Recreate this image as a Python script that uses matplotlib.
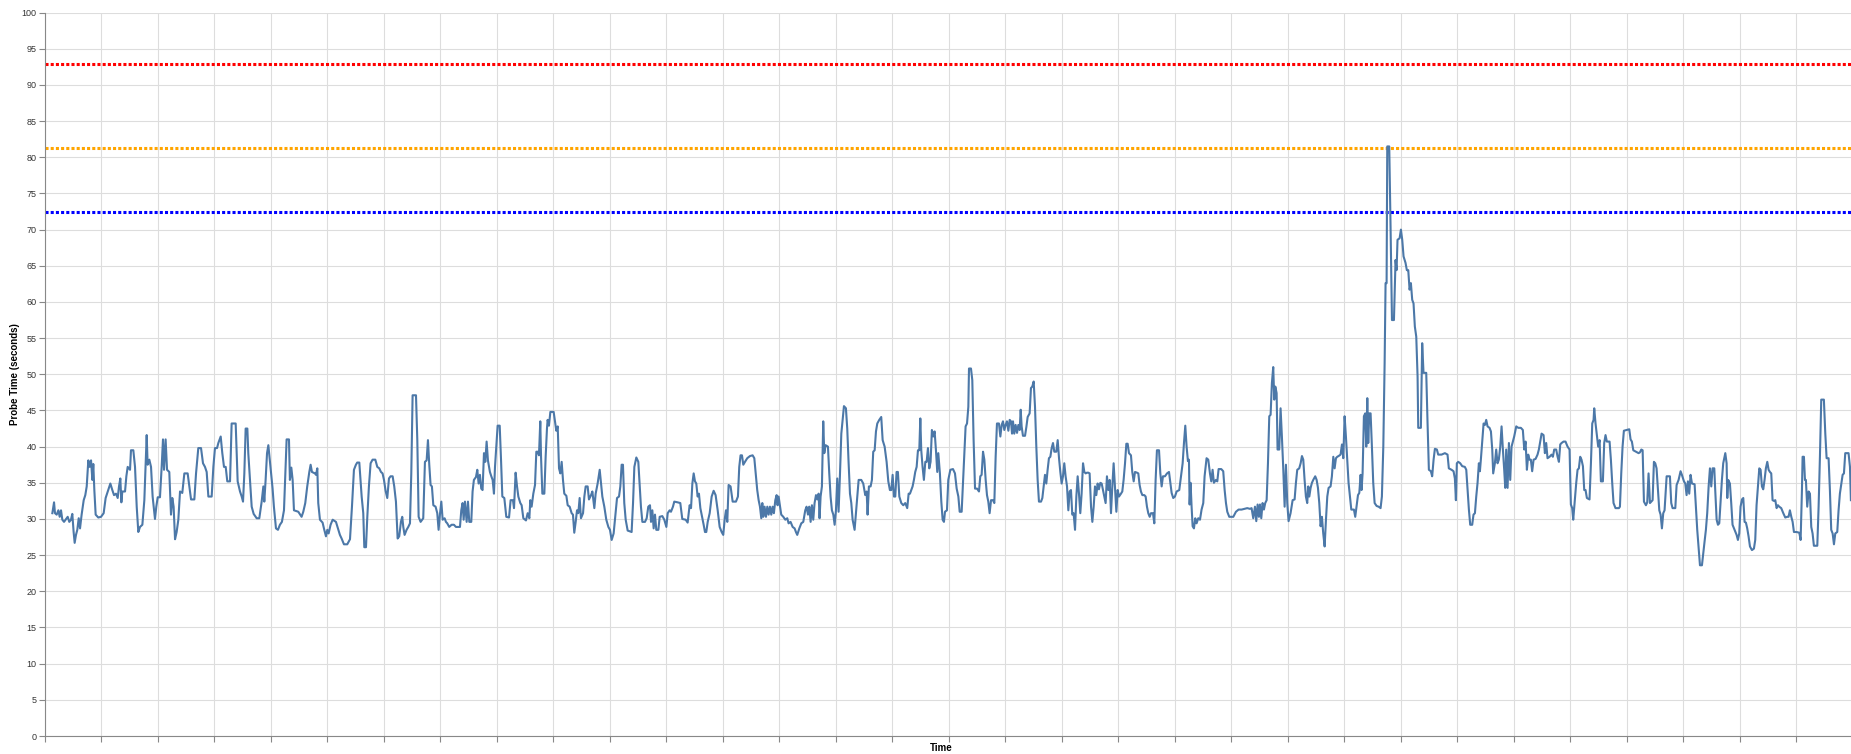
import matplotlib
matplotlib.use("Agg")
import matplotlib.pyplot as plt

# sample time, minutes since start of the window
time_min = [
    7.8, 9.6, 10.6, 12.4, 14.2, 15.6, 17.0, 18.4, 20.2, 21.9, 24.1, 25.8, 27.6, 29.0, 30.4, 31.5, 32.9, 34.3, 35.8, 37.2,
    38.9, 41.1, 42.8, 44.3, 46.0, 47.4, 48.9, 50.3, 51.3, 52.4, 53.8, 56.6, 59.5, 62.3, 64.4, 66.6, 69.4, 71.5, 73.3, 75.4,
    77.2, 78.6, 80.0, 81.1, 82.1, 85.0, 86.4, 87.8, 90.3, 91.3, 93.8, 95.6, 97.4, 99.1, 100.9, 103.4, 105.5, 106.9, 108.0, 109.0,
    110.8, 112.6, 114.3, 116.8, 118.2, 119.7, 122.1, 123.9, 125.3, 126.4, 128.1, 129.6, 132.0, 133.8, 135.2, 136.6, 138.1, 139.8, 141.6, 143.4,
    145.8, 148.0, 151.5, 153.3, 155.1, 158.6, 160.4, 162.8, 165.7, 167.8, 169.9, 171.7, 173.5, 177.0, 178.8, 180.5, 182.7, 184.1, 186.6, 188.3,
    190.1, 191.9, 193.6, 196.5, 198.2, 202.5, 204.6, 207.1, 208.9, 210.3, 211.7, 213.1, 214.9, 215.9, 217.7, 219.5, 221.6, 224.8, 227.6, 230.1,
    231.9, 232.9, 234.3, 235.8, 237.2,
    241.7, 243.1, 245.3, 247.4, 249.5, 251.6, 253.8, 255.2, 256.6, 259.1, 260.1, 261.6, 263.0, 264.4, 269.0, 272.5, 274.3, 276.4, 278.5, 280.7,
    282.1, 283.5, 286.7, 287.8, 289.2, 290.2, 292.0, 294.8, 296.6, 298.4, 299.8, 301.2, 303.3, 305.5, 309.0, 311.1, 313.2, 315.0, 317.5, 321.0,
    323.9, 326.0, 328.1, 330.2, 331.6, 333.8, 336.3, 338.0, 339.1, 340.9, 342.3, 344.0, 345.8, 347.9, 350.8, 352.9, 355.0, 356.8, 358.5, 360.0,
    361.7, 363.5, 365.3, 367.0, 369.2, 370.9, 372.7, 374.5, 376.2, 378.0, 379.4, 380.5, 381.9, 384.0, 385.8, 387.6, 389.0, 390.4, 394.0, 395.4,
    396.8, 398.9, 401.7, 403.5, 405.3, 406.7, 408.1, 409.5, 410.9, 412.4, 414.8, 416.6, 418.0, 419.4, 420.9, 422.3, 424.4, 425.8, 427.2, 429.3,
    431.8, 434.3, 436.4, 440.7, 442.1, 443.5, 444.6, 446.0, 447.8, 449.2, 450.6, 452.7, 454.1, 455.5, 457.7, 459.1, 460.5, 461.9, 463.3, 464.7,
    466.2, 467.6, 469.0, 470.4, 472.5, 474.0, 475.4, 476.8,
    477.9, 479.7, 480.7, 482.9, 484.3, 485.7, 487.8, 489.9, 492.8, 494.5, 497.0, 498.1, 499.8, 501.3, 502.7, 504.8, 506.2, 508.0, 510.8, 512.6,
    514.4, 515.4, 516.8, 518.6, 520.4, 521.8, 523.2, 524.6, 526.0, 526.8, 528.2, 530.3, 531.7, 533.1, 533.8, 535.2, 536.7, 540.2, 541.6, 543.0,
    544.5, 545.9, 547.3, 548.7, 550.1, 551.5, 553.7, 555.1, 557.2, 559.3, 560.7, 562.1, 563.6, 565.0, 566.4, 567.8, 569.2, 571.4, 572.8, 574.2,
    576.3, 577.7, 579.9, 581.3, 583.4, 584.8, 586.9, 589.1, 590.5, 591.9, 594.0, 596.1, 598.3, 600.0, 601.8, 603.9, 606.0, 607.5, 609.6, 611.0,
    612.4, 613.8, 615.2, 616.7, 618.8, 623.0, 624.5, 625.9, 628.0, 630.1, 631.5, 632.9, 634.4, 637.2, 639.0, 640.7, 642.5, 643.6, 645.0, 646.4,
    647.8, 649.2, 651.4, 652.8, 655.6, 657.7, 659.9, 661.3, 663.4, 664.8, 666.9, 668.3, 671.9, 674.7, 676.8, 680.4, 682.5, 684.6, 686.1, 687.5,
    688.9, 690.3, 691.7, 693.1, 694.5, 696.0, 697.4, 699.5, 700.9, 702.3, 703.8, 705.9, 708.0, 710.1, 712.2, 714.4, 716.5,
    718.6, 720.3, 721.8, 723.2, 724.6, 726.0, 728.1, 730.3, 733.8, 735.9, 737.3, 738.7, 740.2, 741.6, 743.4, 745.8, 748.7, 751.5, 753.3, 755.0,
    756.4, 757.9, 759.3, 760.7, 761.8, 762.8, 764.2, 765.7, 767.1, 768.5, 769.9, 771.3, 772.7, 774.1, 775.6, 777.0, 778.0, 779.1, 780.5, 781.9,
    784.1, 786.2, 788.3, 789.7, 791.8, 794.0, 796.1, 797.5, 798.9, 801.1, 803.2, 805.3, 807.4, 808.8, 810.3, 811.7, 813.1, 814.5, 815.9, 817.3,
    818.8, 820.2, 821.6, 822.6, 823.7, 825.1, 826.5, 827.6, 829.0, 831.5, 832.9, 834.3, 835.7, 837.2, 838.6, 840.0, 841.4, 842.8, 844.2, 845.7,
    847.1, 848.5, 850.6, 852.0, 853.4, 854.9, 856.3, 857.7, 859.8, 861.2, 862.6, 864.1, 866.9, 869.0, 871.1, 872.6, 873.6, 875.0, 876.8, 878.2,
    879.6, 881.1, 882.5, 883.9, 886.0, 888.1, 889.6, 891.7, 893.8, 895.6, 897.3, 898.8, 900.2, 901.6, 903.0, 904.4, 905.8, 907.3, 909.4, 911.5,
    913.6, 915.7, 917.2, 918.6, 920.0, 921.4, 922.8, 924.2, 925.7, 927.1, 928.5, 929.6, 930.6, 932.0, 933.4, 934.9, 936.3, 937.7, 939.1, 940.5,
    941.9, 943.4, 944.8, 946.2, 947.6, 948.7, 950.4, 951.9, 953.3, 954.7,
    955.8, 957.9, 959.3, 961.5, 964.3, 966.4, 968.2, 970.0, 971.4, 973.5, 974.9, 976.3, 977.7, 979.2, 980.6, 981.3, 983.4, 984.8, 986.2, 987.7,
    989.8, 991.9, 993.3, 994.7, 996.2, 997.6, 999.0, 1000.4, 1001.8, 1003.2, 1004.7, 1006.8, 1008.2, 1009.6, 1011.0, 1013.1, 1014.6, 1016.0, 1017.4, 1018.8,
    1020.2, 1021.6, 1023.1, 1024.5, 1025.9, 1027.0, 1028.0, 1029.4, 1030.8, 1032.3, 1033.7, 1035.1, 1036.2, 1037.2, 1038.6, 1040.8, 1042.2, 1043.6, 1045.7, 1047.1,
    1048.5, 1050.0, 1051.4, 1052.8, 1054.2, 1055.6, 1057.8, 1059.2, 1060.6, 1062.0, 1063.4, 1064.8, 1066.2, 1067.7, 1069.1, 1070.5, 1071.9, 1074.0, 1075.5, 1076.9,
    1078.3, 1079.7, 1081.1, 1082.5, 1083.9, 1085.4, 1086.8, 1088.2, 1089.6, 1091.0, 1092.4, 1093.9, 1095.3, 1096.7, 1098.1, 1099.5, 1100.9, 1102.4, 1103.8, 1105.2,
    1106.6, 1108.0, 1109.4, 1110.9, 1112.3, 1113.7, 1115.1, 1116.5, 1117.9, 1119.3, 1120.8, 1122.2, 1123.6, 1125.0, 1126.4, 1127.8, 1129.3, 1130.7, 1132.1, 1133.5,
    1134.9, 1136.3, 1137.8, 1139.2, 1140.6, 1142.7, 1144.1, 1145.5, 1147.0, 1148.4, 1149.8, 1151.2, 1153.3, 1154.7, 1156.2, 1157.6, 1159.7, 1161.1, 1162.5, 1163.9,
    1165.4, 1167.5, 1168.9, 1170.3, 1171.7, 1173.2, 1174.6, 1176.7, 1178.1, 1179.5, 1180.9, 1183.1, 1184.5, 1185.9, 1187.3, 1189.4, 1191.6, 1193.7,
    1196.5, 1198.2, 1200.0, 1201.8, 1204.6, 1206.4, 1208.2, 1209.6, 1211.0, 1212.4, 1213.8, 1214.9, 1215.6, 1216.6, 1217.7, 1218.8, 1220.2, 1221.6, 1223.0, 1224.8,
    1226.6, 1228.3, 1230.1, 1231.5, 1233.6, 1235.4, 1237.2, 1238.6, 1240.0, 1241.4, 1243.5, 1245.0, 1246.4, 1249.2, 1251.3, 1252.8, 1254.2, 1255.6, 1257.7, 1262.0,
    1264.8, 1267.6, 1270.8, 1274.0, 1276.8, 1279.7, 1281.4, 1283.2, 1285.0, 1286.4, 1287.8, 1289.2, 1290.3, 1291.7, 1293.1, 1294.5, 1295.9, 1297.4, 1298.8, 1300.2,
    1301.6, 1303.0, 1304.4, 1305.5, 1306.6, 1308.0, 1309.0, 1310.8, 1312.2, 1313.6, 1315.1, 1316.5, 1317.9, 1319.3, 1320.7, 1322.8, 1325.0, 1327.1, 1328.5, 1329.9,
    1332.0, 1333.5, 1334.9, 1336.3, 1337.7, 1339.1, 1340.5, 1341.6, 1342.7, 1344.1, 1345.5, 1346.9, 1349.0, 1350.5, 1351.9, 1353.3, 1354.7, 1356.1, 1357.5, 1359.0,
    1360.4, 1361.8, 1363.2, 1365.3, 1366.7, 1368.2, 1369.6, 1371.0, 1372.4, 1373.8, 1375.9, 1377.4, 1378.8, 1380.2, 1381.6, 1383.0, 1384.4, 1385.9, 1387.3, 1390.1,
    1391.5, 1392.9, 1394.4, 1395.8, 1397.2, 1398.2, 1399.3, 1400.7, 1402.1, 1403.2, 1404.3, 1405.3, 1406.4, 1407.8, 1409.2, 1410.6, 1412.1, 1414.2, 1416.3, 1418.4,
    1419.8, 1421.3, 1422.7, 1423.7, 1424.8, 1425.5, 1427.6, 1429.0, 1430.5, 1432.6,
    1434.3, 1435.4, 1436.4, 1438.6, 1440.0, 1441.4, 1442.8, 1444.9, 1446.3, 1447.8, 1449.2, 1450.6, 1452.0, 1453.4, 1454.8, 1456.3, 1457.7, 1458.4, 1461.2, 1462.6,
    1464.0, 1466.9, 1468.3, 1469.7, 1471.8, 1473.2, 1474.7, 1476.1, 1478.2, 1479.6, 1483.2, 1486.7, 1489.5, 1490.9, 1493.8, 1495.9, 1497.3, 1498.4, 1499.4, 1500.9,
    1503.0, 1505.1, 1507.9, 1509.4, 1510.8, 1512.2, 1513.6, 1515.7, 1517.1, 1518.6, 1520.0, 1521.4, 1522.8, 1523.9, 1524.9, 1526.3, 1527.8, 1529.2, 1530.6, 1532.0,
    1534.1, 1535.6, 1537.0, 1538.0, 1539.8, 1541.2, 1542.6, 1544.0, 1545.5, 1546.9, 1548.3, 1549.7, 1550.8, 1551.8, 1553.3, 1554.7, 1556.1, 1557.5, 1558.9, 1560.3,
    1562.5, 1564.6, 1567.4, 1569.5, 1571.0, 1572.4, 1573.8, 1575.2, 1576.6, 1578.0, 1579.4, 1580.9, 1583.0, 1585.1, 1586.5, 1587.9, 1589.4, 1591.5, 1592.9, 1594.3,
    1595.7, 1597.9, 1600.0, 1601.4, 1602.8, 1604.9, 1606.4, 1607.8, 1609.2, 1610.6, 1612.7, 1614.8, 1617.0, 1619.1, 1620.5, 1621.9, 1623.0, 1624.1, 1626.2, 1627.6,
    1629.0, 1630.4, 1631.8, 1633.3, 1634.7, 1636.1, 1637.5, 1640.3, 1641.8, 1643.2, 1644.6, 1645.3, 1646.7, 1648.1, 1649.5, 1651.0, 1652.4, 1654.5, 1655.9, 1657.3,
    1658.7, 1661.6, 1663.0, 1664.4, 1665.8, 1667.9, 1671.5,
    1672.6, 1674.0, 1675.4, 1676.8, 1679.7, 1682.5, 1683.9, 1685.3, 1686.8, 1689.6, 1692.4, 1693.8, 1695.3, 1696.7, 1698.1, 1700.2, 1701.6, 1703.0, 1704.5, 1705.9,
    1707.3, 1708.7, 1710.1, 1711.5, 1713.0, 1714.4, 1715.8, 1717.2, 1718.6, 1720.0, 1722.2, 1725.7, 1727.1, 1728.5, 1731.4, 1732.8, 1734.9, 1737.0, 1738.4, 1740.6,
    1742.0, 1743.4, 1744.8, 1746.2, 1747.6, 1749.1, 1751.9, 1753.3, 1754.7, 1756.1, 1757.6, 1759.7, 1761.1, 1762.5, 1763.9, 1765.3, 1766.8, 1768.2, 1769.6, 1771.0,
    1772.8, 1773.8, 1775.3, 1776.7, 1778.1, 1779.5, 1780.9, 1782.3, 1784.5, 1785.9, 1786.6, 1787.6, 1789.4, 1790.8, 1792.2, 1794.4, 1796.5, 1797.9, 1799.3, 1800.7,
    1802.2, 1803.6, 1805.0, 1806.4, 1807.8, 1809.2, 1810.7, 1812.8, 1814.9, 1816.3, 1817.7, 1819.2, 1820.6, 1822.0, 1823.4, 1824.8, 1826.2, 1827.6, 1829.1, 1830.5,
    1831.9, 1833.3, 1834.7, 1836.1, 1837.6, 1839.0, 1840.4, 1841.8, 1843.9, 1846.1, 1848.2, 1850.3, 1851.7, 1853.1, 1854.6, 1856.0, 1857.4, 1860.2, 1863.1, 1864.5,
    1865.9, 1866.6, 1868.0, 1869.1, 1870.1, 1871.5, 1873.0, 1874.4, 1875.8, 1877.2, 1878.6, 1882.2, 1883.6, 1885.0, 1886.4, 1889.2, 1890.7, 1892.1, 1894.2, 1895.6,
    1897.0, 1898.5, 1899.9, 1901.3, 1903.4, 1904.8, 1906.2, 1907.7, 1909.1, 1910.5, 1911.9, 1915.4, 1916.9, 1917.9,
]

# probe duration in seconds
probe_s = [
    30.8, 32.3, 30.8, 30.6, 31.2, 30.3, 31.2, 29.9, 29.6, 29.9, 30.3, 29.6, 29.9, 30.7, 28.2, 26.7, 27.8, 28.5, 30.1, 28.7,
    30.6, 32.6, 33.3, 34.5, 38.1, 37.2, 38.1, 35.4, 37.6, 34.0, 30.6, 30.2, 30.3, 30.8, 32.9, 33.8, 34.9, 34.0, 33.3, 33.5,
    32.9, 34.5, 35.6, 32.3, 33.8, 33.8, 35.9, 37.2, 36.8, 39.5, 39.5, 37.2, 31.7, 28.2, 28.9, 29.2, 32.6, 37.5, 41.6, 37.5,
    38.2, 37.2, 33.1, 30.0, 31.7, 33.0, 33.0, 37.2, 41.0, 36.8, 41.0, 36.8, 36.5, 30.6, 32.9, 31.7, 27.2, 28.2, 29.9, 33.8,
    33.6, 36.3, 36.3, 34.5, 32.7, 32.7, 36.3, 39.8, 39.8, 37.7, 37.2, 36.5, 33.1, 33.1, 37.2, 39.8, 39.8, 40.5, 41.4, 39.1,
    37.2, 37.2, 35.2, 35.2, 43.2, 43.2, 35.2, 33.8, 33.1, 32.4, 36.3, 42.5, 42.5, 39.1, 35.4, 31.7, 30.7, 30.1, 30.1, 32.4,
    34.5, 32.4, 35.4, 39.1, 40.2,
    34.2, 31.7, 28.7, 28.5, 29.2, 29.6, 31.2, 36.3, 41.0, 41.0, 35.4, 37.1, 35.4, 31.2, 31.0, 30.3, 31.0, 32.2, 34.5, 36.5,
    37.5, 36.5, 36.3, 36.1, 37.0, 32.2, 29.9, 29.5, 28.5, 27.6, 28.5, 28.0, 29.2, 29.9, 29.6, 28.7, 27.8, 27.3, 26.5, 26.5,
    27.2, 31.7, 36.8, 37.5, 37.8, 37.8, 33.1, 30.8, 26.1, 26.1, 30.3, 34.5, 37.7, 38.2, 38.2, 37.2, 37.0, 36.5, 36.3, 35.4,
    33.9, 32.9, 35.6, 35.9, 35.9, 34.5, 32.4, 27.3, 27.6, 29.6, 30.3, 28.9, 27.8, 28.5, 28.9, 29.4, 36.3, 47.1, 47.1, 40.9,
    30.3, 29.6, 30.1, 37.9, 38.1, 40.9, 37.5, 34.7, 34.5, 31.9, 31.7, 30.8, 28.5, 30.6, 32.4, 29.9, 30.1, 29.6, 29.4, 28.9,
    29.2, 29.2, 28.9, 28.9, 31.2, 32.2, 29.9, 32.4, 29.6, 32.4, 29.6, 29.6, 33.8, 35.4, 35.8, 36.8, 34.9, 36.1, 34.2, 34.0,
    39.1, 37.9, 40.7, 38.1, 36.5, 35.9, 35.4, 33.5,
    37.2, 40.9, 42.9, 42.9, 38.2, 33.1, 32.9, 30.3, 30.2, 32.6, 32.6, 31.5, 36.4, 34.5, 33.1, 32.2, 31.9, 30.1, 29.8, 30.8,
    30.1, 32.6, 31.7, 33.5, 34.7, 39.3, 39.3, 38.8, 43.5, 38.6, 33.5, 33.5, 38.6, 42.5, 43.7, 42.9, 44.8, 44.8, 43.5, 42.2,
    42.8, 37.0, 36.3, 37.9, 35.4, 33.5, 33.2, 31.9, 31.7, 30.8, 30.6, 28.1, 29.6, 31.2, 30.8, 32.9, 30.1, 30.8, 33.1, 34.5,
    34.5, 32.7, 33.3, 33.8, 31.5, 33.5, 34.9, 36.8, 34.9, 33.1, 31.7, 29.9, 28.9, 28.5, 27.1, 28.0, 30.8, 32.9, 33.1, 34.5,
    37.5, 37.5, 32.2, 29.9, 28.4, 28.2, 32.2, 37.2, 38.5, 37.9, 34.9, 31.7, 29.6, 29.6, 30.1, 31.7, 31.9, 29.6, 31.2, 28.7,
    30.6, 28.5, 28.5, 30.3, 30.4, 29.9, 28.9, 30.8, 31.2, 31.0, 31.7, 32.4, 32.3, 32.2, 30.0, 29.9, 29.5, 31.9, 31.5, 34.9,
    36.3, 35.2, 34.9, 33.1, 33.5, 31.5, 30.6, 29.2, 28.2, 28.2, 29.6, 30.8, 33.1, 33.9, 33.3, 31.2, 28.9,
    28.2, 27.8, 29.9, 31.2, 29.6, 34.7, 34.5, 32.4, 32.4, 33.1, 37.2, 38.8, 38.8, 37.5, 37.9, 38.4, 38.7, 38.8, 38.4, 35.9,
    34.0, 32.6, 31.7, 30.1, 32.2, 30.3, 31.7, 30.3, 31.7, 30.6, 31.7, 30.6, 31.7, 30.8, 32.6, 33.3, 31.9, 33.1, 31.8, 30.6,
    30.3, 29.9, 30.1, 29.4, 29.6, 28.9, 28.7, 28.2, 27.8, 28.7, 29.4, 29.6, 31.2, 31.7, 30.6, 31.7, 29.6, 31.9, 29.9, 32.2,
    33.3, 32.7, 33.5, 30.1, 33.1, 34.5, 43.5, 39.1, 40.2, 40.0, 36.3, 33.1, 31.2, 30.6, 29.2, 31.2, 35.6, 31.0, 35.9, 41.8,
    43.7, 45.6, 45.3, 42.5, 37.9, 33.5, 32.2, 29.9, 28.5, 30.8, 33.1, 35.4, 35.4, 34.9, 33.3, 33.8, 30.6, 34.5, 34.5, 35.4,
    39.3, 39.5, 42.1, 43.2, 43.7, 44.1, 40.9, 40.0, 37.9, 35.2, 34.0, 34.0, 36.1, 33.1, 33.1, 36.5, 36.5, 33.1, 32.2, 31.9,
    32.2, 31.5, 33.5, 33.5, 34.0, 34.5, 35.4, 36.5, 37.2, 39.5, 39.5, 43.9, 39.5, 37.2, 35.4, 37.9, 37.9, 39.8, 37.0, 37.9,
    42.3, 41.4, 42.1, 39.5, 36.5, 39.1, 36.3, 32.4, 29.9, 29.6,
    31.0, 31.2, 35.4, 36.8, 36.9, 36.3, 34.2, 33.1, 31.0, 31.0, 34.9, 38.8, 42.8, 43.2, 45.5, 50.8, 50.8, 49.2, 40.9, 34.2,
    34.2, 33.8, 35.9, 36.1, 39.3, 38.2, 35.4, 33.3, 32.4, 30.8, 32.6, 32.6, 32.2, 38.6, 43.2, 43.2, 41.4, 43.0, 43.5, 42.3,
    43.0, 43.5, 42.2, 43.7, 43.5, 41.8, 43.5, 41.8, 43.0, 41.9, 43.0, 42.3, 45.1, 42.8, 41.5, 41.5, 42.7, 44.1, 44.6, 48.1,
    48.3, 49.0, 45.5, 40.0, 35.4, 32.4, 32.4, 32.9, 34.5, 36.1, 34.9, 36.8, 38.4, 38.6, 39.8, 40.5, 39.3, 39.3, 40.9, 38.4,
    36.5, 34.9, 35.9, 37.7, 35.9, 34.5, 31.2, 33.8, 34.0, 30.6, 30.8, 28.5, 33.1, 35.9, 33.5, 30.8, 33.5, 37.7, 36.5, 36.3,
    36.4, 36.4, 36.3, 31.7, 29.6, 31.7, 34.5, 33.3, 34.9, 34.1, 35.0, 34.9, 34.0, 33.1, 32.2, 35.9, 34.0, 35.4, 30.8, 34.5,
    37.7, 34.5, 31.0, 34.0, 33.1, 33.5, 33.8, 35.4, 37.7, 40.4, 40.4, 39.1, 38.8, 36.5, 35.2, 36.5, 36.4, 36.3, 34.7, 33.8,
    33.3, 33.3, 33.1, 31.7, 30.8, 30.3, 30.8, 30.8, 29.4, 35.4, 39.5, 39.5, 36.3, 34.5, 35.9, 35.9, 36.3, 36.5,
    33.6, 32.9, 33.1, 33.8, 34.0, 35.9, 37.7, 40.5, 42.9, 40.0, 38.0, 38.2, 32.0, 35.0, 31.7, 29.0, 28.7, 30.1, 29.4, 30.1,
    29.9, 31.3, 32.2, 35.9, 38.4, 38.2, 36.3, 35.2, 36.8, 35.0, 35.4, 35.2, 36.9, 36.9, 36.6, 34.0, 32.2, 31.0, 30.3, 30.3,
    31.0, 31.3, 31.3, 31.4, 31.5, 31.4, 31.5, 30.1, 31.7, 29.7, 32.0, 30.3, 32.0, 30.1, 32.2, 31.3, 32.2, 32.6, 37.7, 44.2,
    44.4, 48.8, 51.0, 46.5, 48.3, 47.4, 39.6, 39.6, 45.3, 41.4, 36.8, 31.7, 37.5, 32.2, 29.7, 30.8, 32.6, 32.7, 35.0, 36.8,
    37.0, 37.7, 38.7, 38.2, 35.4, 33.1, 32.2, 34.5, 33.1, 34.3, 35.0, 35.4, 35.9, 35.4, 34.3, 32.2, 29.0, 30.3, 28.0, 26.2,
    29.9, 33.1, 34.3, 34.5, 35.9, 38.6, 37.0, 38.4, 38.6, 38.7, 38.9, 40.3, 38.4, 44.2, 41.4, 38.2, 35.0, 33.1, 31.3, 31.3,
    30.3, 31.7, 33.3, 33.6, 36.1, 34.0, 36.3, 44.2, 44.6, 40.0, 46.7, 40.5, 44.6, 44.6, 40.0, 35.0, 32.2, 31.8, 31.7, 31.5,
    33.1, 40.0, 51.5, 62.6, 62.6, 81.5, 81.5, 70.4, 57.5, 57.5,
    65.8, 64.4, 68.6, 68.8, 70.0, 68.6, 66.3, 65.4, 64.4, 64.4, 61.7, 62.6, 60.3, 59.8, 56.6, 55.2, 49.7, 42.6, 42.6, 54.3,
    50.2, 50.2, 43.2, 36.8, 36.6, 35.9, 38.2, 39.7, 39.6, 38.9, 38.9, 39.1, 38.9, 37.0, 36.8, 36.6, 35.6, 32.6, 37.7, 37.9,
    37.7, 37.3, 37.2, 36.8, 34.0, 31.3, 29.2, 29.2, 30.6, 30.8, 33.1, 35.0, 37.7, 36.6, 38.2, 40.7, 43.2, 43.0, 43.7, 42.8,
    42.6, 42.1, 39.6, 36.3, 37.7, 39.6, 37.7, 38.2, 40.0, 42.8, 39.6, 36.8, 34.3, 39.6, 34.3, 40.5, 35.4, 40.0, 40.7, 41.4,
    42.8, 42.6, 42.6, 42.3, 39.6, 40.7, 36.8, 38.9, 38.2, 38.2, 36.6, 38.2, 38.3, 38.9, 39.6, 40.7, 41.8, 41.6, 39.1, 40.5,
    38.4, 38.6, 38.9, 38.6, 39.6, 39.6, 38.6, 37.9, 40.3, 40.5, 40.7, 40.7, 40.0, 39.6, 32.0, 31.5, 29.9, 31.7, 35.0, 36.8,
    37.0, 38.6, 38.2, 37.3, 34.0, 34.0, 32.9, 32.7, 37.7, 43.2, 43.7, 45.3, 43.2, 41.6, 40.0, 40.9, 35.2, 35.2, 40.5, 41.6,
    40.7, 40.7, 38.2, 35.0, 32.2, 31.5, 31.5,
    31.7, 36.3, 40.0, 42.2, 42.3, 42.4, 41.0, 40.7, 39.5, 39.3, 39.1, 39.2, 39.6, 39.5, 32.4, 31.9, 32.3, 36.3, 32.2, 32.4,
    32.6, 37.9, 37.7, 37.0, 34.0, 31.2, 30.6, 28.7, 30.8, 31.2, 35.9, 35.9, 32.2, 31.5, 31.5, 34.7, 35.4, 36.6, 36.1, 35.2,
    34.9, 33.3, 35.2, 33.5, 36.1, 34.9, 34.8, 31.7, 28.5, 26.2, 23.6, 23.6, 25.3, 26.9, 28.5, 30.8, 34.5, 37.0, 34.5, 37.0,
    37.0, 34.0, 29.9, 29.2, 29.4, 32.4, 35.4, 37.7, 39.1, 37.7, 32.9, 35.4, 34.9, 32.2, 29.2, 28.5, 27.8, 27.1, 28.0, 31.7,
    32.7, 32.9, 29.6, 29.5, 28.7, 27.6, 26.2, 25.7, 25.9, 27.1, 31.9, 34.5, 37.0, 36.8, 34.5, 34.1, 35.4, 37.0, 37.9, 36.8,
    36.5, 36.3, 32.6, 32.5, 32.6, 31.5, 31.9, 31.7, 31.5, 30.8, 30.2, 30.3, 30.3, 31.2, 30.3, 29.6, 28.2, 28.2, 28.1, 27.1,
    34.0, 38.6, 38.6, 35.4, 35.4, 31.7, 33.8, 33.5, 28.9, 28.0, 26.3, 26.3, 31.7, 38.6, 46.5, 46.5, 41.8, 38.4, 38.4, 34.0,
    28.5, 28.0, 26.5, 28.0, 28.2, 31.2, 33.5, 34.9, 36.1, 36.3, 39.1, 39.1, 37.2, 32.6,
]

# alert thresholds (seconds)
threshold_values = [92.85, 81.3, 72.4]
threshold_colors = ["#ff0000", "#ffa500", "#0000ff"]

x_end = 1918  # right edge of the visible window, minutes


def draw_chart(output_image="out.png"):
    plt.rcParams["font.family"] = ["Liberation Sans", "DejaVu Sans"]

    fig = plt.figure(figsize=(18.51, 7.54), dpi=100)
    ax = fig.add_axes([45 / 1851, 18 / 754, 1 - 45 / 1851, 723.4 / 754])

    # horizontal threshold lines
    for val, col in zip(threshold_values, threshold_colors):
        ax.axhline(val, color=col, linewidth=2.2, linestyle=(0, (1, 0.7)),
                   dash_capstyle="butt", zorder=2)

    ax.plot(time_min, probe_s, color="#4c78a8", linewidth=1.5, zorder=3)

    ax.set_xlim(0, x_end)
    ax.set_ylim(0, 100)
    ax.set_yticks(range(0, 101, 5))
    ax.set_xticks(range(0, x_end, 60))
    ax.set_xticklabels([])

    ax.grid(True, color="#dddddd", linewidth=0.8)
    ax.set_axisbelow(True)

    for side in ["top", "right"]:
        ax.spines[side].set_visible(False)
    for side in ["left", "bottom"]:
        ax.spines[side].set_color("#888888")
        ax.spines[side].set_linewidth(0.8)

    ax.tick_params(axis="both", colors="#888888", length=4.5, width=0.8, labelsize=6.5)
    ax.tick_params(axis="y", labelcolor="#333333", pad=1.5)

    # axis titles placed like the original export
    fig.text(15 / 1851, 1 - 374 / 754, "Probe Time (seconds)", rotation=90,
             ha="center", va="center", fontsize=7, fontweight="bold")
    fig.text(941 / 1851, 1 - 748 / 754, "Time", ha="center", va="center",
             fontsize=7, fontweight="bold")

    fig.savefig(output_image, dpi=100)
    plt.close(fig)


def main():
    draw_chart()


if __name__ == "__main__":
    main()
